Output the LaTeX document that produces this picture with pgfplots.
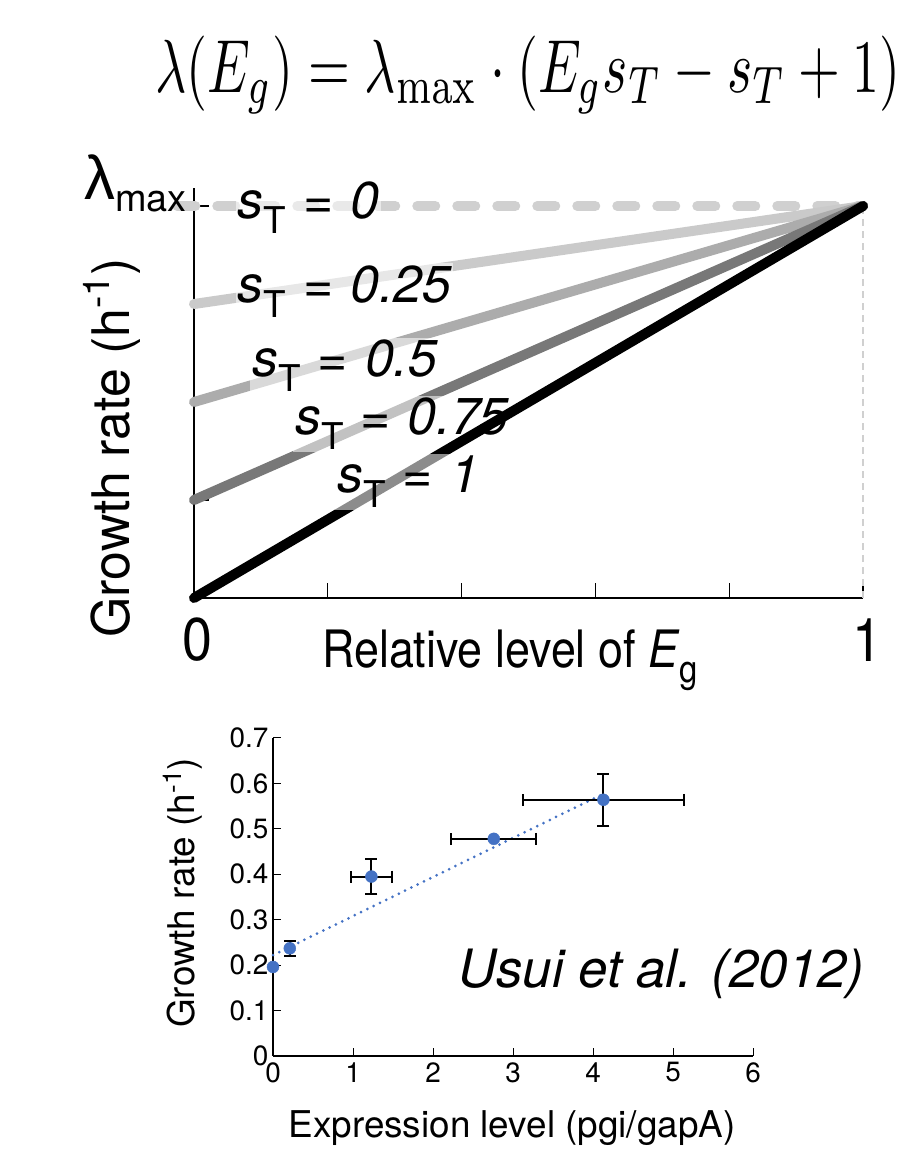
\documentclass[border=0pt]{standalone}
\usepackage{pgfplots}
\pgfplotsset{compat=1.18}
\usepackage[no-math]{fontspec}
\setmainfont{TeX Gyre Heros}
\newfontfamily\lib{Liberation Sans}
\definecolor{exblue}{RGB}{68,114,196}
\definecolor{cA}{RGB}{208,208,208}
\definecolor{cB}{RGB}{202,202,202}
\definecolor{cC}{RGB}{172,172,172}
\definecolor{cD}{RGB}{120,120,120}
\tikzset{lbl/.style={anchor=base west, fill=white, fill opacity=0.55, text opacity=1, inner sep=2bp, font=\fontsize{52}{52}\selectfont\itshape}}
\newcommand{\sT}{s\raisebox{-15bp}{\upshape\fontsize{37}{37}\selectfont T}\hspace{17bp}=\hspace{17bp}}
\begin{document}
\begin{tikzpicture}[x=1bp,y=1bp]
\useasboundingbox (0,0) rectangle (918,1160);
\node[anchor=west, inner sep=0] at (155,1085) {\scalebox{1}[1.4]{\resizebox{745bp}{!}{$\lambda(E_g) = \lambda_{\max}\cdot(E_g s_T - s_T + 1)$}}};

\begin{axis}[at={(194bp,562bp)}, anchor=south west, scale only axis,
  width=669bp, height=410bp, xmin=0, xmax=1, ymin=0, ymax=1.046, clip=false,
  axis x line=bottom, axis y line=left,
  axis line style={-, line width=1.3bp, black},
  tick align=inside, major tick length=15bp, tick style={line width=1.3bp, black},
  xtick={0,0.2,0.4,0.6,0.8,1}, xticklabels={}, ytick={0,0.25,0.5,0.75,1}, yticklabels={}]
\addplot[cA, line width=2bp, dash pattern=on 7bp off 5bp] coordinates {(1,0) (1,1)};
\addplot[cA, line width=10bp, line cap=round, dash pattern=on 18bp off 22bp] coordinates {(-0.025,1) (1,1)};
\node[lbl] at (axis cs:0.062,0.969) {\sT 0};
\addplot[cB, line width=10bp, line cap=round] coordinates {(0,0.75) (1,1)};
\node[lbl] at (axis cs:0.062,0.755) {\sT 0.25};
\addplot[cC, line width=10bp, line cap=round] coordinates {(0,0.5) (1,1)};
\node[lbl] at (axis cs:0.084,0.564) {\sT 0.5};
\addplot[cD, line width=10bp, line cap=round] coordinates {(0,0.25) (1,1)};
\node[lbl] at (axis cs:0.148,0.416) {\sT 0.75};
\addplot[black, line width=10bp, line cap=round] coordinates {(0,0) (1,1)};
\node[lbl] at (axis cs:0.211,0.268) {\sT 1};
\end{axis}
\node[font=\fontsize{54}{54}\selectfont] at (197,520) {\scalebox{1}[1.12]{0}};
\node[font=\fontsize{54}{54}\selectfont] at (867,520) {\scalebox{1}[1.12]{1}};
\node[anchor=base west, inner sep=0, font=\fontsize{45}{45}\selectfont] at (322,492) {\scalebox{1}[1.15]{Relative level of \textit{E}\raisebox{-13bp}{\fontsize{33}{33}\selectfont g}}};
\node[anchor=base west, inner sep=0] at (84,960) {{\lib\fontsize{62}{62}\selectfont λ}\raisebox{-12bp}{\fontsize{38}{38}\selectfont max}};
\node[rotate=90, inner sep=0, font=\fontsize{52}{52}\selectfont] at (112,712) {Growth rate (h\raisebox{20bp}{\fontsize{37}{37}\selectfont -1})};

\begin{axis}[at={(273bp,104bp)}, anchor=south west, scale only axis,
  width=480bp, height=318bp, xmin=0, xmax=6, ymin=0, ymax=0.7, clip=false,
  axis x line=bottom, axis y line=left,
  axis line style={-, line width=1.2bp, black},
  tick align=inside, major tick length=8bp, tick style={line width=1bp, black},
  xtick={0,1,2,3,4,5,6}, ytick={0,0.1,0.2,0.3,0.4,0.5,0.6,0.7},
  tick label style={font=\fontsize{28}{28}\selectfont},
  xticklabel style={yshift=-3bp},
  /pgf/number format/assume math mode=true,
  yticklabel style={/pgf/number format/fixed, /pgf/number format/precision=1, xshift=-1bp}]
\addplot[exblue, line width=3bp, line cap=round, dash pattern=on 0bp off 7bp] coordinates {(0,0.222) (4.14,0.578)};
\addplot[black, only marks, mark=none, error bars/.cd, y dir=both, y explicit, error mark=|,
  error bar style={black, line width=2bp}, error mark options={black, line width=2bp, mark size=6bp}]
  coordinates {(0.21,0.237) +- (0,0.017) (1.23,0.395) +- (0,0.038) (4.13,0.564) +- (0,0.057)};
\addplot[black, only marks, mark=none, error bars/.cd, x dir=both, x explicit, error mark=|,
  error bar style={black, line width=2bp}, error mark options={black, line width=2bp, mark size=6bp}]
  coordinates {(1.23,0.395) +- (0.255,0) (2.76,0.478) +- (0.53,0) (4.13,0.564) +- (1.01,0)};
\addplot[only marks, mark=*, mark size=6bp, exblue, mark options={draw=exblue, fill=exblue}]
  coordinates {(0,0.196) (0.21,0.237) (1.23,0.395) (2.76,0.478) (4.13,0.564)};
\end{axis}
\node[rotate=90, inner sep=0, font=\fontsize{37}{37}\selectfont] at (183,267) {Growth rate (h\raisebox{13bp}{\fontsize{26}{26}\selectfont -1})};
\node[anchor=base, inner sep=0, font=\fontsize{37}{37}\selectfont] at (512,22) {Expression level (pgi/gapA)};
\node[anchor=base west, inner sep=0, font=\fontsize{53}{53}\selectfont\itshape] at (458,172) {Usui et al. (2012)};
\end{tikzpicture}
\end{document}
